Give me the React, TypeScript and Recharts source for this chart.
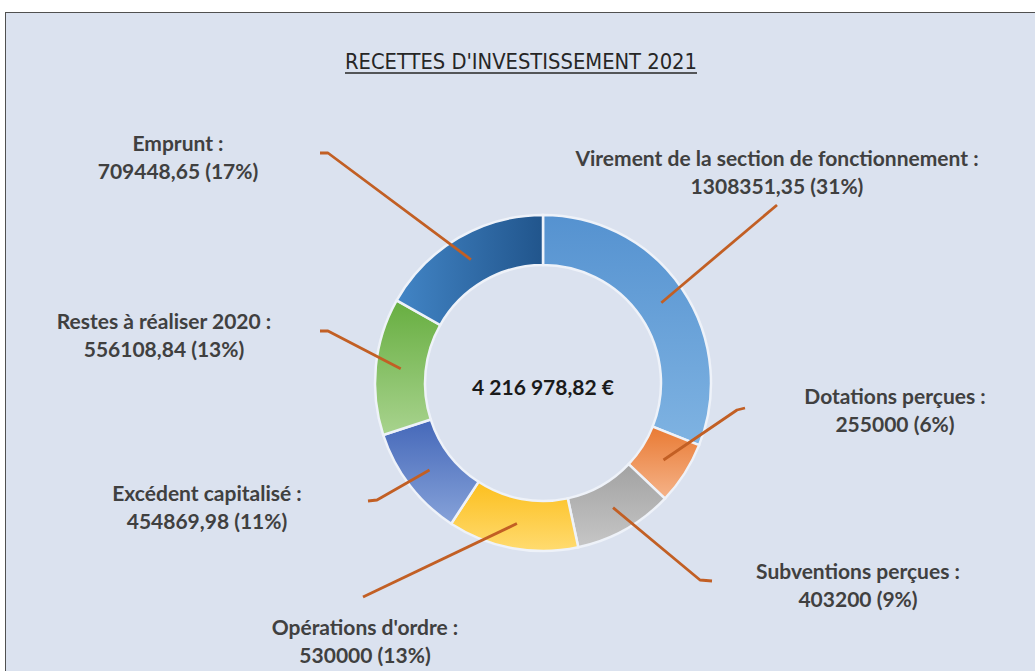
import React from 'react';
import { PieChart, Pie, Cell } from 'recharts';

const categories = [
  'Virement de la section de fonctionnement',
  'Dotations perçues',
  'Subventions perçues',
  "Opérations d'ordre",
  'Excédent capitalisé',
  'Restes à réaliser 2020',
  'Emprunt',
];
const amounts = [1308351.35, 255000, 403200, 530000, 454869.98, 556108.84, 709448.65];
const percentLabels = ['31%', '6%', '9%', '13%', '11%', '13%', '17%'];
const chartTitle = "RECETTES D'INVESTISSEMENT 2021";

const data = categories.map((name, i) => ({ name, value: amounts[i] }));

// style: gradient stops per slice [from, to, horizontal]
const palette: [string, string, boolean][] = [
  ['#5592d0', '#7fb3e2', false],
  ['#e97a33', '#f5b389', false],
  ['#a2a2a2', '#c6c6c6', false],
  ['#fcbf1e', '#ffdb70', false],
  ['#4568b9', '#86a2d9', false],
  ['#67ae40', '#a8d38e', false],
  ['#21558c', '#4285c6', true],
];

// layout of label boxes and leader lines, offsets relative to the pie centre
const labelLayout: { elbow: number[] | null; end: number[]; text: number[] }[] = [
  { elbow: null, end: [234, -178], text: [234, -226] },
  { elbow: [194, 27], end: [202, 25], text: [352, 12] },
  { elbow: [157, 197], end: [169, 198], text: [315, 187] },
  { elbow: null, end: [-180, 214], text: [-178, 243] },
  { elbow: [-166, 117], end: [-175, 118], text: [-336, 109] },
  { elbow: [-215, -52], end: [-223, -52], text: [-379, -63] },
  { elbow: [-215, -230], end: [-223, -230], text: [-365, -241] },
];

const RAD = Math.PI / 180;

const formatAmount = (v: number) =>
  Number.isInteger(v) ? String(v) : v.toFixed(2).replace('.', ',');

const formatTotal = (v: number) => {
  const [int, dec] = v.toFixed(2).split('.');
  const grouped = int.replace(/\B(?=(\d{3})+(?!\d))/g, ' ');
  return `${grouped},${dec} €`;
};

const total = amounts.reduce((a, b) => a + b, 0);

const LABEL_FONT = "Lato, 'Open Sans', sans-serif";
const LABEL_SIZE = 21;

const renderLabel = (props: any) => {
  const { cx, cy, midAngle, innerRadius, outerRadius, index } = props;
  const r = (innerRadius + outerRadius) / 2;
  const sx = cx + r * Math.cos(-midAngle * RAD);
  const sy = cy + r * Math.sin(-midAngle * RAD);
  const lay = labelLayout[index];
  const pts: number[][] = [[sx, sy]];
  if (lay.elbow) pts.push([cx + lay.elbow[0], cy + lay.elbow[1]]);
  pts.push([cx + lay.end[0], cy + lay.end[1]]);
  const tx = cx + lay.text[0];
  const ty = cy + lay.text[1];
  return (
    <g key={`lbl-${index}`}>
      <polyline
        points={pts.map((p) => p.join(',')).join(' ')}
        fill="none"
        stroke="#c25f24"
        strokeWidth={2.8}
        strokeLinejoin="round"
      />
      <text
        x={tx}
        y={ty}
        textAnchor="middle"
        dominantBaseline="central"
        fontFamily={LABEL_FONT}
        fontWeight={700}
        fontSize={LABEL_SIZE}
        fill="#404040"
      >
        {categories[index]} :
      </text>
      <text
        x={tx}
        y={ty + 28}
        textAnchor="middle"
        dominantBaseline="central"
        fontFamily={LABEL_FONT}
        fontWeight={700}
        fontSize={LABEL_SIZE}
        fill="#404040"
      >
        {formatAmount(amounts[index])} ({percentLabels[index]})
      </text>
      {index === 0 ? (
        <text
          x={cx}
          y={cy + 3}
          textAnchor="middle"
          dominantBaseline="central"
          fontFamily={LABEL_FONT}
          fontWeight={700}
          fontSize={21}
          fill="#1a1a1a"
        >
          {formatTotal(total)}
        </text>
      ) : null}
    </g>
  );
};

export default function App() {
  return (
    <div style={{ position: 'absolute', left: 0, top: 0, width: 1035, height: 671, background: '#ffffff', overflow: 'hidden' }}>
      <svg width={0} height={0} style={{ position: 'absolute' }}>
        <defs>
          {palette.map(([a, b, horiz], i) => (
            <linearGradient key={i} id={`grad${i}`} x1={horiz ? 1 : 0} y1={0} x2={0} y2={horiz ? 0 : 1}>
              <stop offset="0%" stopColor={a} />
              <stop offset="100%" stopColor={b} />
            </linearGradient>
          ))}
        </defs>
      </svg>
      <div
        style={{
          position: 'absolute',
          left: 5,
          top: 12,
          width: 1060,
          height: 700,
          background: '#dbe2ef',
          border: '1.5px solid #505050',
          boxSizing: 'border-box',
        }}
      />
      <svg width={1035} height={100} style={{ position: 'absolute', left: 0, top: 0 }}>
        <text
          x={521}
          y={69}
          textAnchor="middle"
          fontFamily="'Liberation Sans Narrow', 'DejaVu Sans Condensed', 'Liberation Sans', sans-serif"
          fontSize={21}
          fill="#262626"
          textLength={352}
          lengthAdjust="spacingAndGlyphs"
        >
          {chartTitle}
        </text>
        <line x1={345} x2={697} y1={73} y2={73} stroke="#262626" strokeWidth={1.5} />
      </svg>
      <div style={{ position: 'absolute', left: 0, top: 0 }}>
        <PieChart width={1035} height={671} margin={{ top: 0, right: 0, bottom: 0, left: 0 }}>
          <Pie
            data={data}
            dataKey="value"
            nameKey="name"
            cx={543}
            cy={383}
            innerRadius={118}
            outerRadius={168}
            startAngle={90}
            endAngle={-270}
            stroke="#eef2f9"
            strokeWidth={2.5}
            label={renderLabel}
            labelLine={false}
            isAnimationActive={false}
          >
            {data.map((_, i) => (
              <Cell key={i} fill={`url(#grad${i})`} />
            ))}
          </Pie>
        </PieChart>
      </div>
    </div>
  );
}
